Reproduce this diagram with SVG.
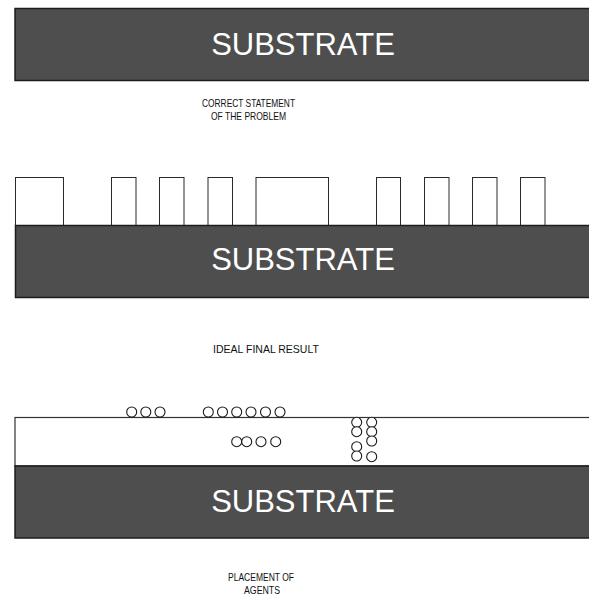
<svg xmlns="http://www.w3.org/2000/svg" width="589" height="601" viewBox="0 0 589 601">
  <style>
    .substrate { fill: #4e4e4e; stroke: #1c1c1c; stroke-width: 1.5; }
    .sub-text { font-family: "Liberation Sans", Arial, sans-serif; font-size: 31px; fill: #ffffff; text-anchor: middle; }
    .caption { font-family: "Liberation Sans", Arial, sans-serif; font-size: 10.5px; fill: #111111; text-anchor: middle; }
    .feature { fill: #ffffff; stroke: #2a2a2a; stroke-width: 1; }
    .layer { fill: #ffffff; stroke: #333333; stroke-width: 1.2; }
    .agent { fill: #ffffff; stroke: #1a1a1a; stroke-width: 1.1; }
  </style>

  <!-- Panel 1: bare substrate -->
  <g id="panel-statement">
    <rect class="substrate" x="15" y="8.5" width="580" height="72"/>
    <text class="sub-text" x="303" y="55">SUBSTRATE</text>
    <text class="caption" x="248.5" y="107" textLength="93" lengthAdjust="spacingAndGlyphs">CORRECT STATEMENT</text>
    <text class="caption" x="248.5" y="120" textLength="75" lengthAdjust="spacingAndGlyphs">OF THE PROBLEM</text>
  </g>

  <!-- Panel 2: patterned features on substrate -->
  <g id="panel-ideal">
    <g id="features">
      <rect class="feature" x="15.5" y="177.5" width="48" height="48"/>
      <rect class="feature" x="111.5" y="177.5" width="24.5" height="48"/>
      <rect class="feature" x="159.5" y="177.5" width="24.5" height="48"/>
      <rect class="feature" x="208" y="177.5" width="24.5" height="48"/>
      <rect class="feature" x="256" y="177.5" width="72.5" height="48"/>
      <rect class="feature" x="376.5" y="177.5" width="24" height="48"/>
      <rect class="feature" x="424.5" y="177.5" width="24.5" height="48"/>
      <rect class="feature" x="472.5" y="177.5" width="24.5" height="48"/>
      <rect class="feature" x="520.5" y="177.5" width="24.5" height="48"/>
    </g>
    <rect class="substrate" x="15.5" y="225.5" width="580" height="72"/>
    <text class="sub-text" x="303" y="270">SUBSTRATE</text>
    <text class="caption" x="266" y="353">IDEAL FINAL RESULT</text>
  </g>

  <!-- Panel 3: layer with placed agents -->
  <g id="panel-agents">
    <rect class="layer" x="15" y="417.5" width="580" height="48.5"/>
    <rect class="substrate" x="15" y="466" width="580" height="72"/>
    <text class="sub-text" x="303" y="512">SUBSTRATE</text>
    <g id="agents">
      <!-- surface row -->
      <circle class="agent" cx="131.7" cy="412" r="5"/>
      <circle class="agent" cx="145.8" cy="412" r="5"/>
      <circle class="agent" cx="160" cy="412" r="5"/>
      <circle class="agent" cx="208.3" cy="412" r="5"/>
      <circle class="agent" cx="222.5" cy="412" r="5"/>
      <circle class="agent" cx="236.7" cy="412" r="5"/>
      <circle class="agent" cx="251" cy="412" r="5"/>
      <circle class="agent" cx="265.5" cy="412" r="5"/>
      <circle class="agent" cx="280" cy="412" r="5"/>
      <!-- embedded row -->
      <circle class="agent" cx="236.7" cy="441.7" r="5"/>
      <circle class="agent" cx="246.7" cy="441.7" r="5"/>
      <circle class="agent" cx="261" cy="441.7" r="5"/>
      <circle class="agent" cx="275.7" cy="441.7" r="5"/>
      <!-- vertical stacks -->
      <circle class="agent" cx="356.7" cy="422.3" r="5"/>
      <circle class="agent" cx="356.7" cy="431.7" r="5"/>
      <circle class="agent" cx="356.7" cy="446.7" r="5"/>
      <circle class="agent" cx="356.7" cy="456" r="5"/>
      <circle class="agent" cx="371.7" cy="422.3" r="5"/>
      <circle class="agent" cx="371.7" cy="431.7" r="5"/>
      <circle class="agent" cx="371.7" cy="441" r="5"/>
      <circle class="agent" cx="371.7" cy="456.7" r="5"/>
    </g>
    <text class="caption" x="261" y="581" textLength="66" lengthAdjust="spacingAndGlyphs">PLACEMENT OF</text>
    <text class="caption" x="262" y="594" textLength="36" lengthAdjust="spacingAndGlyphs">AGENTS</text>
  </g>
</svg>
